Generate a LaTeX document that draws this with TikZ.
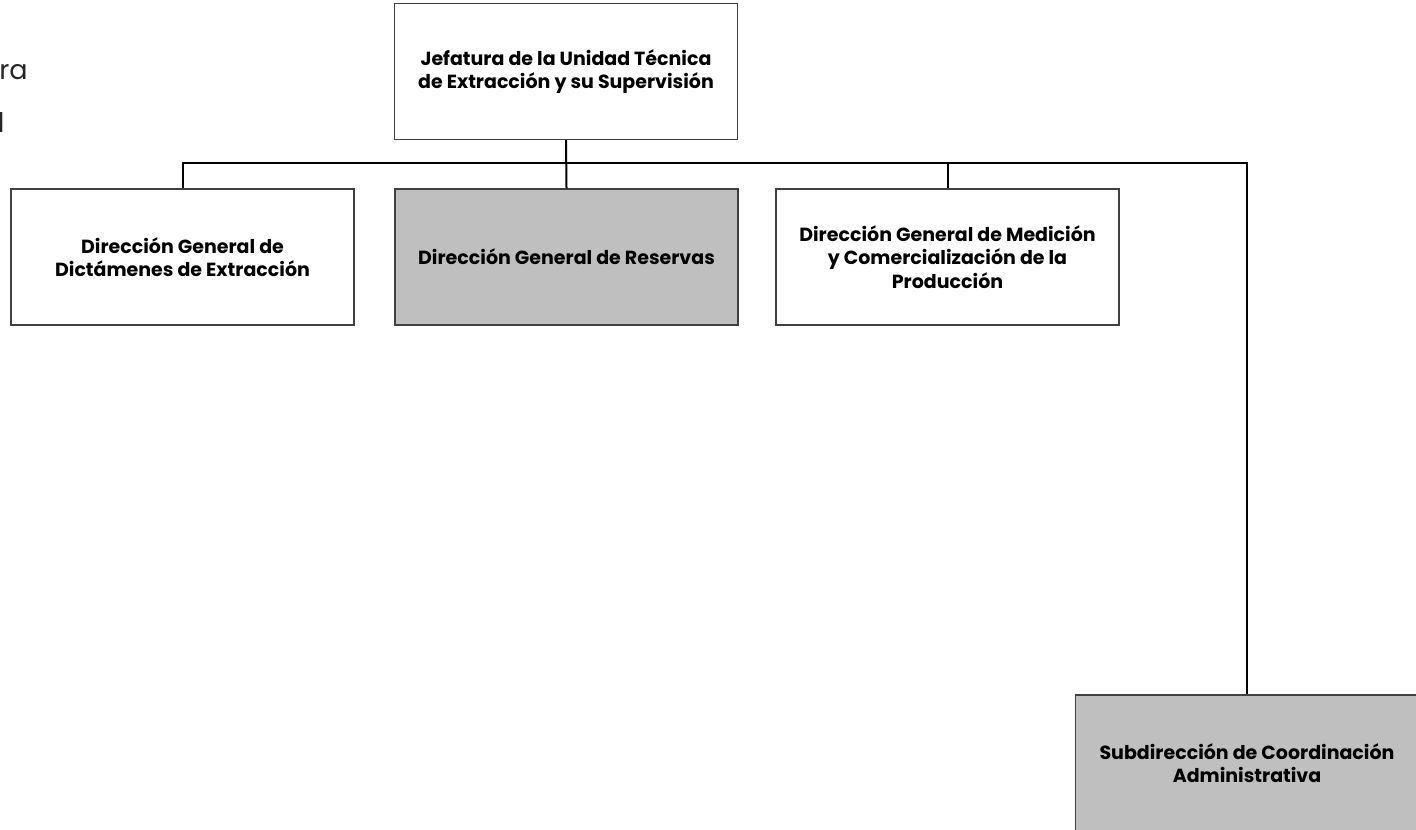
\documentclass[tikz,border=0pt]{standalone}
\usepackage{fontspec}
\setmainfont{Poppins}

\begin{document}
\begin{tikzpicture}[x=0.5pt, y=-0.5pt]
\tikzstyle{unit}=[rectangle, draw=black!75, line width=0.7pt, minimum width=171.5pt, minimum height=68pt, inner sep=2pt, align=center, font=\fontsize{9.5}{11.8}\selectfont\bfseries]
\tikzstyle{shaded}=[unit, fill=black!25]
\tikzstyle{wire}=[line width=1pt, black]

\useasboundingbox (0,0) rectangle (1416,829);
\clip (0,0) rectangle (1416,829);

% restos de texto cortado a la izquierda
\node[anchor=base east, inner sep=0pt, font=\fontsize{13.5}{15}\selectfont\color{black!85}] (frag1) at (28,80) {ra};
\node[anchor=base east, inner sep=0pt, font=\fontsize{13.5}{15}\selectfont\color{black!85}] (frag2) at (5,132) {l};

\node[unit] (jefe) at (566,71.5) {Jefatura de la Unidad Técnica\\de Extracción y su Supervisión};
\node[unit] (dict) at (182.5,257) {Dirección General de\\Dictámenes de Extracción};
\node[shaded] (res) at (566.5,257) {Dirección General de Reservas};
\node[unit] (med) at (947.5,257) {Dirección General de Medición\\y Comercialización de la\\Producción};
\node[shaded] (sub) at (1247,763) {Subdirección de Coordinación\\Administrativa};

\coordinate (bus) at (566,163);
\draw[wire] (jefe.south) -- (res.north);
\draw[wire] (dict.north) |- (bus) -| (sub.north);
\draw[wire] (med.north) -- (med.north |- bus);

\end{tikzpicture}
\end{document}
